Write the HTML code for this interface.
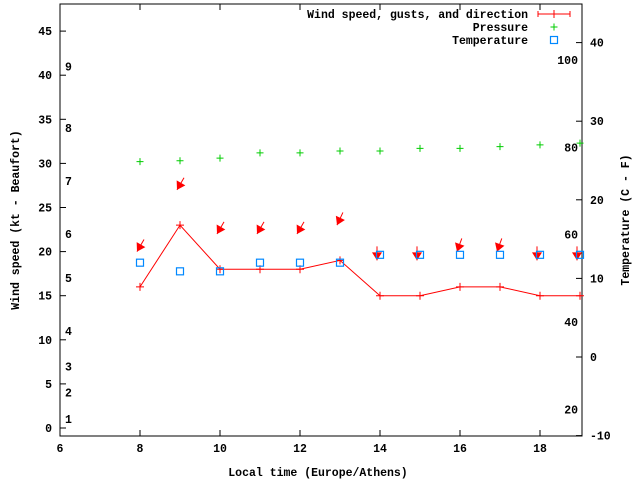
<!DOCTYPE html>
<html><head><meta charset="utf-8"><style>
body{margin:0;background:#fff}
svg text{font-family:"Liberation Mono",monospace;font-size:11.5px;fill:#000;font-weight:bold}
</style></head><body>
<svg width="640" height="480" viewBox="0 0 640 480">
<g id="axes"></g><g id="marks"></g><g id="legend"></g>
</svg>
<script>
const hours=[8,9,10,11,12,13,14,15,16,17,18,19];
const wind=[16,23,18,18,18,19,15,15,16,16,15,15];
const gusts=[20,27,22,22,22,23,19,19,20,20,19,19];
const dirs=[30,30,30,30,30,25,0,0,20,20,0,0];
const pressure=[30.2,30.3,30.6,31.2,31.2,31.4,31.4,31.7,31.7,31.9,32.1,32.3];
const temps=[12,10.9,10.9,12,12,12,13,13,13,13,13,13];
const xTicks=[6,8,10,12,14,16,18];
const yTicks=[0,5,10,15,20,25,30,35,40,45];
const tTicks=[-10,0,10,20,30,40];
const fLabels=[20,40,60,80,100];
const bLabels=[1,2,3,4,5,6,7,8,9];
const bKt=[1,4,7,11,17,22,28,34,41];
const L=60,R=582,T=4,B=436;
const X=v=>60+(v-6)*40;
const Y=v=>428-v*8.82;
const TY=v=>357-v*7.86;
const FY=f=>TY((f-32)*5/9);
const NS="http://www.w3.org/2000/svg";
function mk(p,tag,a){const e=document.createElementNS(NS,tag);for(const k in a)e.setAttribute(k,a[k]);p.appendChild(e);return e;}
const ax=document.getElementById('axes'),mg=document.getElementById('marks'),lg=document.getElementById('legend');
let fr=mk(ax,'rect',{x:L,y:T,width:R-L,height:B-T,fill:'none',stroke:'#000','stroke-width':1});


xTicks.forEach(v=>{const x=X(v);
 mk(ax,'line',{x1:x,y1:B,x2:x,y2:B-6,stroke:'#000'});mk(ax,'line',{x1:x,y1:T,x2:x,y2:T+6,stroke:'#000'});
 const t=mk(ax,'text',{x:x,y:B+16,'text-anchor':'middle'});t.textContent=v;
 
 });
yTicks.forEach(v=>{const y=Y(v);
 mk(ax,'line',{x1:L,y1:y,x2:L+6,y2:y,stroke:'#000'});
 const t=mk(ax,'text',{x:L-8,y:y+4,'text-anchor':'end'});t.textContent=v;
 
 });
tTicks.forEach(v=>{const y=TY(v);
 mk(ax,'line',{x1:R,y1:y,x2:R-6,y2:y,stroke:'#000'});
 const t=mk(ax,'text',{x:R+8,y:y+4});t.textContent=v;
 
 });
fLabels.forEach(v=>{const t=mk(ax,'text',{x:R-4,y:FY(v)+4,'text-anchor':'end'});t.textContent=v;
 
 });
bLabels.forEach((v,i)=>{const t=mk(ax,'text',{x:L+5,y:Y(bKt[i])+4});t.textContent=v;
 
 });
let t1=mk(ax,'text',{x:318,y:476,'text-anchor':'middle'});t1.textContent='Local time (Europe/Athens)';


let t2=mk(ax,'text',{x:19,y:220,'text-anchor':'middle',transform:'rotate(-90 19 220)'});t2.textContent='Wind speed (kt - Beaufort)';


let t3=mk(ax,'text',{x:629,y:220,'text-anchor':'middle',transform:'rotate(-90 629 220)'});t3.textContent='Temperature (C - F)';


// wind line
let pts=hours.map((h,i)=>X(h)+','+Y(wind[i])).join(' ');
let wl=mk(mg,'polyline',{points:pts+' '+R+','+Y(wind[wind.length-1]),fill:'none',stroke:'#f00','stroke-width':1});


hours.forEach((h,i)=>{const x=X(h),y=Y(wind[i]);
 const p=mk(mg,'path',{d:`M${x-4},${y}H${x+4}M${x},${y-4}V${y+4}`,stroke:'#f00'});
 
 
 const gy=Y(gusts[i]),gx=x-3,a=dirs[i]*Math.PI/180;
 const tx=gx+Math.sin(a)*14,ty=gy-Math.cos(a)*14;
 const ar=mk(mg,'g',{});
 
 
 mk(ar,'line',{x1:tx,y1:ty,x2:gx,y2:gy,stroke:'#f00','stroke-width':1});
 const ux=(gx-tx)/14,uy=(gy-ty)/14;
 mk(ar,'polygon',{points:`${gx},${gy} ${gx-ux*8-uy*5},${gy-uy*8+ux*5} ${gx-ux*8+uy*5},${gy-uy*8-ux*5}`,fill:'#f00'});
 const pp=mk(mg,'path',{d:`M${x-3.5},${Y(pressure[i])}h7M${x},${Y(pressure[i])-3.5}v7`,stroke:'#0c0'});
 
 
 const tp=mk(mg,'rect',{x:x-3.5,y:TY(temps[i])-3.5,width:7,height:7,fill:'none',stroke:'#08f','stroke-width':1.2});
 
 
});
// legend
const ln=['Wind speed, gusts, and direction','Pressure','Temperature'];
ln.forEach((s,i)=>{const y=14+i*13;const t=mk(lg,'text',{x:528,y:y+4,'text-anchor':'end'});t.textContent=s;
 
 });
mk(lg,'path',{d:'M538,14H570M538,11V17M570,11V17M554,10V18',stroke:'#f00'});
mk(lg,'path',{d:'M550.5,27h7M554,23.5v7',stroke:'#0c0'});
mk(lg,'rect',{x:550.5,y:36.5,width:7,height:7,fill:'none',stroke:'#08f','stroke-width':1.2});
</script>
</body></html>
